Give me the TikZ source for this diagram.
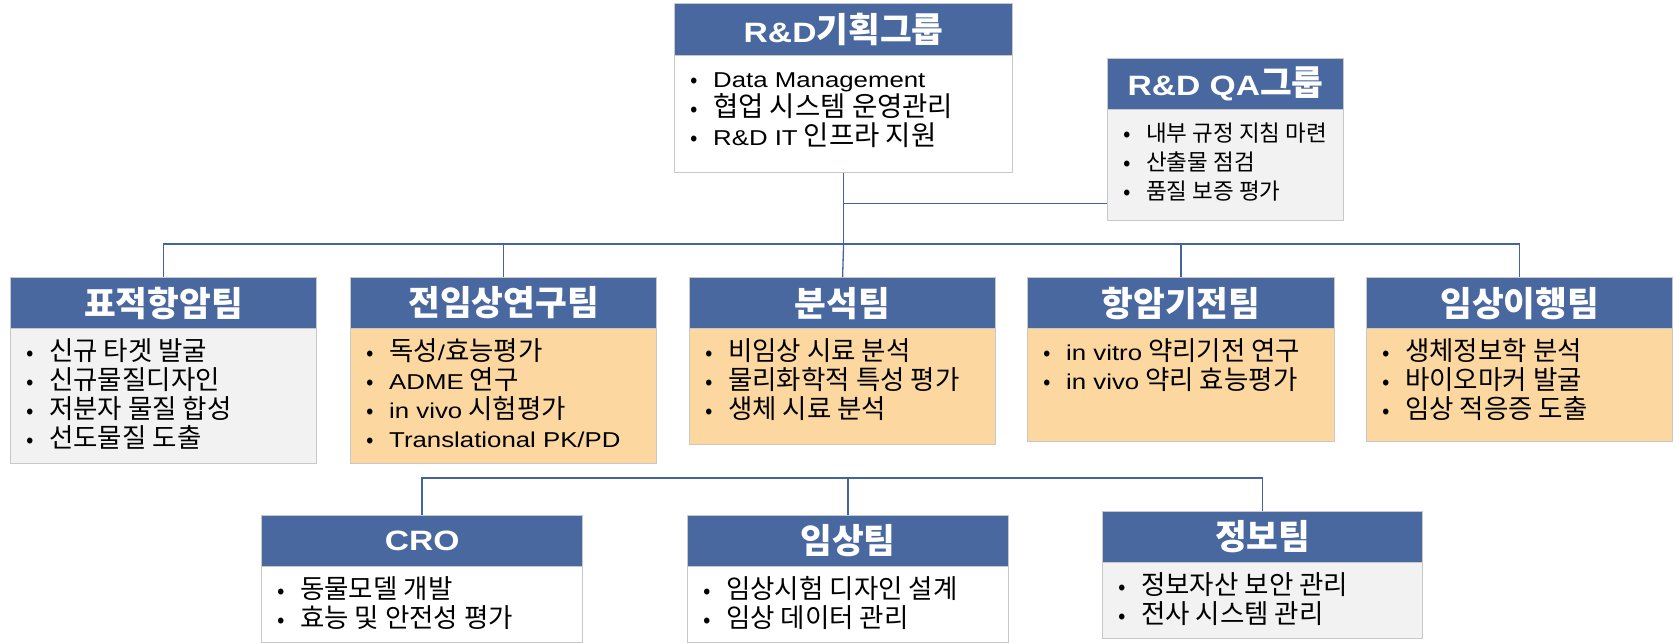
\documentclass[tikz,border=0pt]{standalone}
\usepackage{fontspec}
\setmainfont{Noto Sans CJK KR}
\newfontfamily\latf[FakeStretch=1.2]{Liberation Sans}
\def\lsz{21.5}
\newcommand\lt[1]{{\latf\fontsize{\lsz}{\baselineskip}\selectfont #1}}
\newcommand\bu{\makebox[23pt][l]{\fontsize{22}{22}\selectfont •}}
\usetikzlibrary{calc}
\definecolor{hdrblue}{RGB}{73,104,159}
\definecolor{bordergray}{RGB}{200,200,200}
\definecolor{bodygray}{RGB}{242,242,242}
\definecolor{bodyorange}{RGB}{252,216,160}
\definecolor{connblue}{RGB}{68,100,160}
\def\isz{26}
\tikzset{
  hdr/.style={draw=bordergray, line width=1.2pt, fill=hdrblue, text=white,
    font=\def\lsz{28}\bfseries\fontsize{34.5}{38}\selectfont, inner sep=0pt},
  bodybox/.style={draw=bordergray, line width=1.2pt, inner sep=0pt},
  whitebody/.style={fill=white},
  graybody/.style={fill=bodygray},
  orangebody/.style={fill=bodyorange},
  items/.style={inner sep=0pt, text=black, font=\fontsize{\isz}{29}\selectfont},
  conn/.style={draw=connblue, line width=1.3pt}
}
% #1 name, #2 left, #3 top, #4 right, #5 header bottom, #6 bottom, #7 fill style, #8 title, #9 lines
\newcommand\orgbox[9]{%
  \node[hdr, minimum width={#4-#2}, minimum height={#5-#3}, anchor=north west] (#1h) at (#2,#3) {#8};
  \node[bodybox, #7, minimum width={#4-#2}, minimum height={#6-#5}, anchor=north west] (#1) at (#2,#5) {};
  \node[items, anchor=base west] (#1t) at ($(#2,#5)+(16,32)$) {\parbox[t]{300pt}{#9}};
}
\begin{document}
\begin{tikzpicture}[x=1pt,y=-1pt]
\useasboundingbox (0,0) rectangle (1676,643);

\def\isz{27.5}
\orgbox{plan}{674}{3}{1012}{55}{172}{whitebody}{\lt{R\&D}기획그룹}
  {\bu\lt{Data Management}\\\bu 협업 시스템 운영관리\\\bu\lt{R\&D IT} 인프라 지원}
\def\isz{22.5}
\orgbox{qa}{1107}{58}{1343}{109}{220}{graybody}{\lt{R\&D QA}그룹}
  {\bu 내부 규정 지침 마련\\\bu 산출물 점검\\\bu 품질 보증 평가}

\def\isz{26.5}
\orgbox{pyo}{10}{277}{316}{328}{463}{graybody}{표적항암팀}
  {\bu 신규 타겟 발굴\\\bu 신규물질디자인\\\bu 저분자 물질 합성\\\bu 선도물질 도출}
\orgbox{jeon}{350}{277}{656}{328}{463}{orangebody}{전임상연구팀}
  {\bu 독성\lt{/}효능평가\\\bu\lt{ADME} 연구\\\bu\lt{in vivo} 시험평가\\\bu\lt{Translational PK/PD}}
\orgbox{bun}{689}{277}{995}{328}{444}{orangebody}{분석팀}
  {\bu 비임상 시료 분석\\\bu 물리화학적 특성 평가\\\bu 생체 시료 분석}
\orgbox{hang}{1027}{277}{1334}{328}{441}{orangebody}{항암기전팀}
  {\bu\lt{in vitro} 약리기전 연구\\\bu\lt{in vivo} 약리 효능평가}
\orgbox{im}{1366}{277}{1672}{328}{441}{orangebody}{임상이행팀}
  {\bu 생체정보학 분석\\\bu 바이오마커 발굴\\\bu 임상 적응증 도출}

\orgbox{cro}{261}{515}{582}{566}{642}{whitebody}{\lt{CRO}}
  {\bu 동물모델 개발\\\bu 효능 및 안전성 평가}
\orgbox{clin}{687}{515}{1008}{566}{642}{whitebody}{임상팀}
  {\bu 임상시험 디자인 설계\\\bu 임상 데이터 관리}
\orgbox{info}{1102}{511}{1422}{562}{638}{graybody}{정보팀}
  {\bu 정보자산 보안 관리\\\bu 전사 시스템 관리}

% upper connectors
\coordinate (ub) at (plan.south |- 0,244);
\path (plan.south) ++(0,30) coordinate (qj);
\draw[conn] (plan.south) -- (ub);
\draw[conn] (qj) -- (qj -| qa.west);
\draw[conn] (pyoh.north) |- (ub) -| (imh.north);
\draw[conn] (jeonh.north) -- (jeonh.north |- ub);
\draw[conn] (ub) -- (bunh.north);
\draw[conn] (hangh.north) -- (hangh.north |- ub);

% lower connectors
\coordinate (lb) at (clinh.north |- 0,478);
\draw[conn] (croh.north) |- (lb) -| (infoh.north);
\draw[conn] (lb) -- (clinh.north);
\end{tikzpicture}
\end{document}
